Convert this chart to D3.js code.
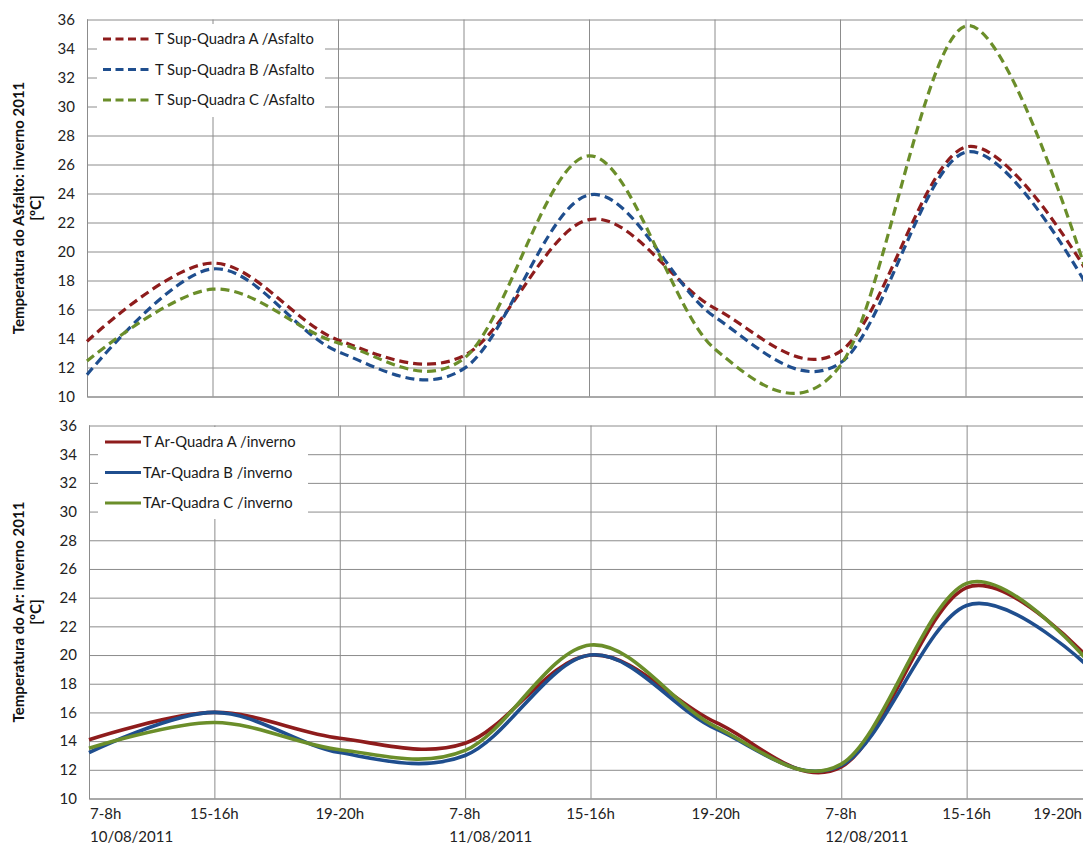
<!DOCTYPE html>
<html>
<head>
<meta charset="utf-8">
<script src="https://cdn.jsdelivr.net/npm/d3@7"></script>
<style>
    body { margin: 0; background: #fff; }
    svg { display: block; font-family: Lato, "Open Sans", sans-serif; }
</style>
</head>
<body>
<svg id="chart" width="1083" height="847"></svg>
<script>

// categories (one per reading)
var categories = ["7-8h", "15-16h", "19-20h", "7-8h", "15-16h", "19-20h", "7-8h", "15-16h", "19-20h"];
var dates = ["10/08/2011", "", "", "11/08/2011", "", "", "12/08/2011", "", ""];
var yTicks = [10, 12, 14, 16, 18, 20, 22, 24, 26, 28, 30, 32, 34, 36];

// temperatura superficie asfalto
var supNames = ["T Sup-Quadra A /Asfalto", "T Sup-Quadra B /Asfalto", "T Sup-Quadra C /Asfalto"];
var supA = [13.8, 19.2, 13.9, 12.8, 22.2, 16.1, 13.1, 27.2, 18.15];
var supB = [11.5, 18.8, 13.1, 11.9, 23.9, 15.5, 12.3, 26.85, 17.15];
var supC = [12.45, 17.4, 13.7, 12.6, 26.6, 13.3, 12.1, 35.55, 17.55];

// temperatura do ar
var arNames = ["T Ar-Quadra A /inverno", "TAr-Quadra B /inverno", "TAr-Quadra C /inverno"];
var arA = [14.1, 16.0, 14.2, 13.85, 20.0, 15.3, 12.2, 24.7, 19.5];
var arB = [13.2, 16.0, 13.2, 13.0, 20.0, 14.85, 12.3, 23.45, 18.95];
var arC = [13.5, 15.3, 13.4, 13.35, 20.7, 15.0, 12.4, 25.0, 19.25];

var colors = ["#8e1c1c", "#1f4e8e", "#6b8e2a"];

var chart = (function () {

    var self = {};
    var svg = d3.select("#chart");

    self.drawPanel = function (p) {
        var x = d3.scaleLinear().domain([0, categories.length - 1]).range([p.left, p.right]);
        var y = d3.scaleLinear().domain([10, 36]).range([p.bottom, p.top]);
        var g = svg.append("g");

        // horizontal grid + y labels
        var yAxis = g.append("g")
            .attr("transform", "translate(" + p.left + ",0)")
            .call(d3.axisLeft(y).tickValues(yTicks).tickSize(-(1083 - p.left)).tickPadding(12))
        yAxis.select(".domain").remove();
        yAxis.selectAll(".tick line").attr("stroke", "#8c8c8c").attr("stroke-width", 1);
        yAxis.selectAll(".tick text").attr("fill", "#222").style("font-size", "15px")
            .style("font-family", "Lato, sans-serif");

        // vertical grid
        var xAxis = g.append("g")
            .attr("transform", "translate(0," + p.bottom + ")")
            .call(d3.axisBottom(x).tickValues(d3.range(categories.length))
                .tickSize(-(p.bottom - p.top)).tickFormat(""));
        xAxis.select(".domain").attr("stroke", "#8c8c8c");
        xAxis.selectAll(".tick line").attr("stroke", "#8c8c8c").attr("stroke-width", 1);

        // axis title, two lines
        var cy = (p.top + p.bottom) / 2;
        p.title.forEach(function (t, i) {
            g.append("text")
                .attr("transform", "translate(" + (24 + i * 17) + "," + cy + ") rotate(-90)")
                .attr("text-anchor", "middle")
                .style("font-size", "15px").style("font-weight", "bold").attr("fill", "#111")
                .text(t);
        })

        // legend
        g.append("rect").attr("x", p.legend.x).attr("y", p.legend.y)
            .attr("width", p.legend.w).attr("height", p.legend.h).attr("fill", "#fff");
        p.names.forEach(function (name, i) {
            var ly = p.legend.y + 15 + i * 30.5;
            g.append("line")
                .attr("x1", p.legend.x + p.legend.l0).attr("x2", p.legend.x + p.legend.l1)
                .attr("y1", ly).attr("y2", ly)
                .attr("stroke", colors[i]).attr("stroke-width", 3.2)
                .attr("stroke-dasharray", p.dashed ? "8,4.5" : null);
            g.append("text")
                .attr("x", p.legend.x + p.legend.l1 + 2).attr("y", ly + 5)
                .style("font-size", "14.8px").attr("fill", "#1a1a1a")
                .text(name);
        })

        // series
        var line = d3.line()
            .x(function (d, i) { return x(i); })
            .y(function (d) { return y(d); })
            .curve(d3.curveCardinal.tension(0));
        p.series.forEach(function (values, i) {
            g.append("path")
                .datum(values)
                .attr("d", line)
                .attr("fill", "none")
                .attr("stroke", colors[i])
                .attr("stroke-width", p.dashed ? 3.2 : 3.6)
                .attr("stroke-dasharray", p.dashed ? "9,5" : null)
                .attr("stroke-linejoin", "round");
        })

        // category labels
        if (p.labels) {
            categories.forEach(function (c, i) {
                var cx = x(i);
                if (dates[i] != "") {
                    var lx = Math.max(p.left + 1, cx - 16);
                    g.append("text").attr("x", lx).attr("y", p.bottom + 20)
                        .style("font-size", "15px").attr("fill", "#222").text(c);
                    g.append("text").attr("x", lx).attr("y", p.bottom + 43)
                        .style("font-size", "15px").attr("fill", "#222").text(dates[i]);
                }
                else {
                    var t = g.append("text").attr("x", cx).attr("y", p.bottom + 20)
                        .attr("text-anchor", "middle")
                        .style("font-size", "15px").attr("fill", "#222").text(c);
                    var w = t.node().getComputedTextLength();
                    if (cx + w / 2 > 1082)
                        t.attr("x", 1082 - w / 2);
                }
            })
        }
    }

    return self;

})()

chart.drawPanel({
    left: 87, right: 1091, top: 19.5, bottom: 396.5,
    title: ["Temperatura do Asfalto: inverno 2011", "[ºC]"],
    names: supNames, series: [supA, supB, supC], dashed: true,
    legend: {x: 97, y: 24, w: 228, h: 93, l0: 6, l1: 56},
    labels: false
})

chart.drawPanel({
    left: 89, right: 1092, top: 425.5, bottom: 798.5,
    title: ["Temperatura do Ar: inverno 2011", "[ºC]"],
    names: arNames, series: [arA, arB, arC], dashed: false,
    legend: {x: 98, y: 427, w: 210, h: 92, l0: 7, l1: 43},
    labels: true
})

</script>
</body>
</html>
